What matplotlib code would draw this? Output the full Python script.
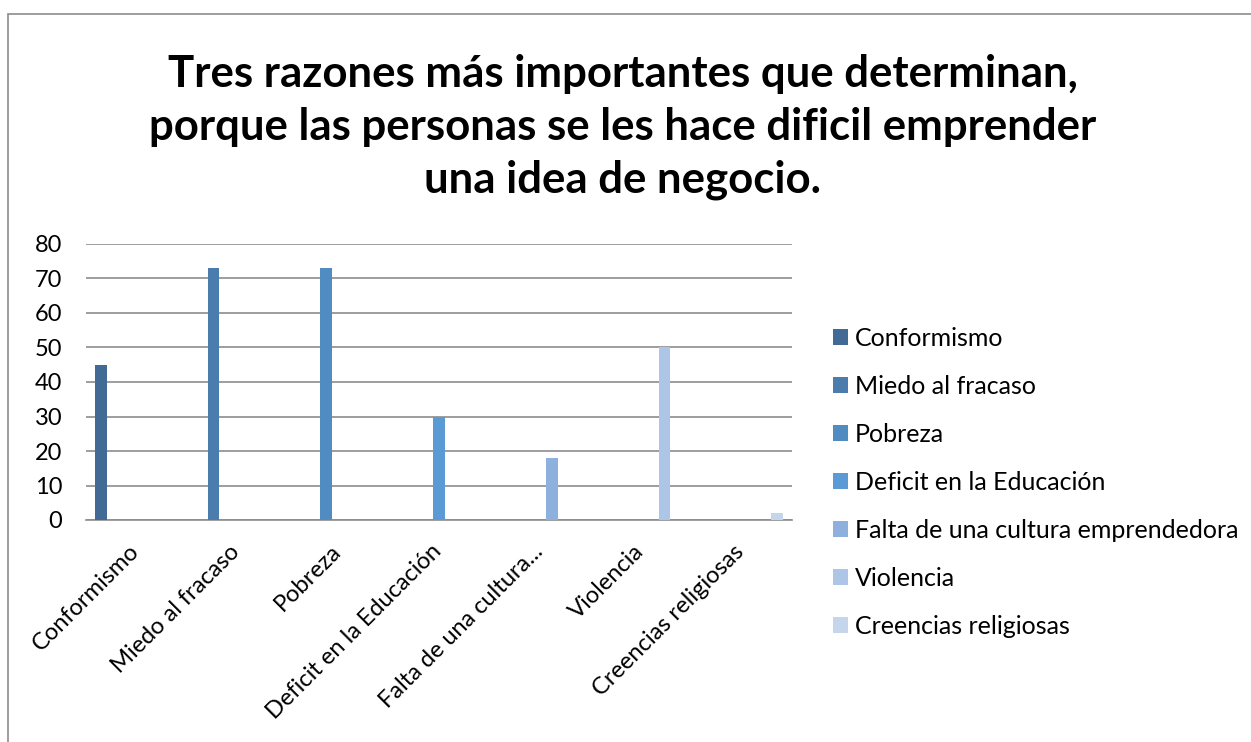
import numpy as np
import matplotlib
matplotlib.use('Agg')
import matplotlib.pyplot as plt
import matplotlib.transforms as mtransforms
from matplotlib.patches import Rectangle

# Datos del gráfico
categorias = ['Conformismo', 'Miedo al fracaso', 'Pobreza', 'Deficit en la Educación',
              'Falta de una cultura...', 'Violencia', 'Creencias religiosas']
series = ['Conformismo', 'Miedo al fracaso', 'Pobreza', 'Deficit en la Educación',
          'Falta de una cultura emprendedora', 'Violencia', 'Creencias religiosas']
valores = [45, 73, 73, 30, 18, 50, 2]
colores = ['#416B95', '#4A7DAE', '#508BC2', '#5B9BD5', '#8DB1DC', '#ADC5E6', '#C5D6EC']

titulo = ('Tres razones más importantes que determinan,\n'
          'porque las personas se les hace dificil emprender\n'
          'una idea de negocio.')

plt.rcParams['font.family'] = ['Lato', 'DejaVu Sans']

W, H = 1251, 742
fig = plt.figure(figsize=(W / 100, H / 100), dpi=100)

# borde del gráfico
fig.patches.append(Rectangle((8 / W, -0.1), 1.2, (H - 14) / H + 0.1, transform=fig.transFigure,
                             fill=False, edgecolor='#8c8c8c', linewidth=1.2))

ax = fig.add_axes([86 / W, 1 - 520 / H, (792 - 86) / W, (520 - 244) / H])

# barras agrupadas: cada serie tiene un valor solo en su categoría
n = len(series)
datos = np.diag(valores)
x = np.arange(len(categorias))
w = 1 / (n + 1.5)
for i in range(n):
    pos = x - 0.5 + 0.75 * w + (i + 0.5) * w
    alturas = datos[i]
    mask = alturas > 0
    ax.bar(pos[mask], alturas[mask], width=w, color=colores[i], label=series[i], zorder=3)

ax.set_xlim(-0.5, len(categorias) - 0.5)
ax.set_ylim(0, 80)
ax.set_yticks(range(0, 81, 10))
ax.yaxis.grid(True, color='#8c8c8c', linewidth=1.2, zorder=0)
for s in ['top', 'right', 'left']:
    ax.spines[s].set_visible(False)
ax.spines['bottom'].set_color('#8c8c8c')
ax.spines['bottom'].set_linewidth(1.2)
ax.tick_params(axis='y', length=0, labelsize=17, pad=17)
ax.tick_params(axis='x', length=0, labelsize=17, pad=15)
ax.set_xticks(x)
ax.set_xticklabels(categorias, rotation=45, ha='right', rotation_mode='anchor')
desplaza = mtransforms.ScaledTranslation(-8 / 100, 0, fig.dpi_scale_trans)
for lbl in ax.get_xticklabels():
    lbl.set_transform(lbl.get_transform() + desplaza)

fig.text(0.498, 1 - 54 / H, titulo, ha='center', va='top', fontsize=31.5,
         fontweight='bold', linespacing=1.38)

ax.legend(loc='center left', bbox_to_anchor=(810 / W, 1 - 482 / H), bbox_transform=fig.transFigure,
          frameon=False, fontsize=18, handlelength=0.6, handleheight=0.6,
          handletextpad=0.3, labelspacing=1.0)

fig.savefig('out.png', dpi=100)
